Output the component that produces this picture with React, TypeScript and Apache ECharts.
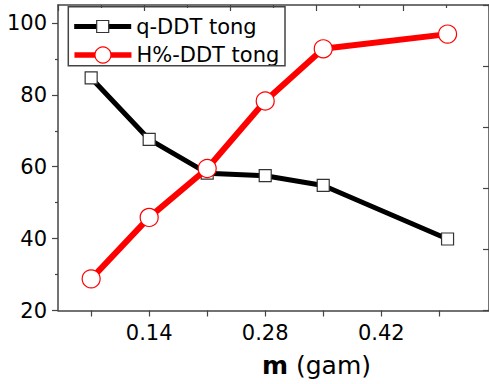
import React, { useEffect, useRef } from "react";
import * as echarts from "echarts";

// Sample mass m (gam) and the two measured quantities
const massValues = [0.07, 0.14, 0.21, 0.28, 0.35, 0.5];
const qDdtTong = [84.7, 67.6, 58.2, 57.5, 54.8, 39.9];
const hDdtTong = [28.8, 45.9, 59.5, 78.3, 92.8, 96.9];

const xLabelValues = [0.14, 0.28, 0.42];
const xTickValues = [0.07, 0.14, 0.21, 0.28, 0.35, 0.42, 0.49];
const yTickValues = [20, 40, 60, 80, 100];
const yMinorTickValues = [30, 50, 70, 90];

const seriesNames = ["q-DDT tong", "H%-DDT tong"];

const FONT = "DejaVu Sans";
const AXIS_COLOR = "#444";

export default function App() {
  const ref = useRef<HTMLDivElement>(null);

  useEffect(() => {
    if (!ref.current) return;
    const chart = echarts.init(ref.current, null, { renderer: "svg" });

    const toPairs = (ys: number[]) => massValues.map((x, i) => [x, ys[i]]);

    const legendCommon = {
      orient: "vertical" as const,
      padding: 0,
      itemWidth: 57,
      textStyle: { fontFamily: FONT, fontSize: 21, color: "#000" },
    };

    chart.setOption({
      animation: false,
      backgroundColor: "#fff",
      grid: { left: 58, top: 5, width: 436, height: 305.5, containLabel: false },
      xAxis: [
        {
          type: "value",
          position: "bottom",
          min: 0.03,
          max: 0.55,
          axisLine: { show: true, lineStyle: { color: AXIS_COLOR, width: 1.5 } },
          axisTick: {
            show: true,
            customValues: xTickValues,
            length: 6,
            lineStyle: { color: AXIS_COLOR, width: 1.2 },
          },
          axisLabel: {
            customValues: xLabelValues,
            fontFamily: FONT,
            fontSize: 21,
            color: "#000",
            margin: 12,
            formatter: (v: number) => v.toFixed(2),
          },
          splitLine: { show: false },
        },
        {
          type: "value",
          position: "top",
          min: 0,
          max: 10,
          interval: 2,
          axisLine: { show: true, lineStyle: { color: AXIS_COLOR, width: 1.5 } },
          axisTick: { show: true, inside: true, length: 6, lineStyle: { color: AXIS_COLOR, width: 1.2 } },
          minorTick: { show: true, splitNumber: 2, length: 3, lineStyle: { color: AXIS_COLOR, width: 1.2 } },
          axisLabel: { show: false },
          splitLine: { show: false },
        },
      ],
      yAxis: [
        {
          type: "value",
          position: "left",
          min: 20,
          max: 105,
          interval: 20,
          axisLine: { show: true, lineStyle: { color: AXIS_COLOR, width: 1.5 } },
          axisTick: {
            show: true,
            customValues: yTickValues,
            length: 6,
            lineStyle: { color: AXIS_COLOR, width: 1.2 },
          },
          axisLabel: {
            customValues: yTickValues,
            fontFamily: FONT,
            fontSize: 21,
            color: "#000",
            margin: 11,
          },
          splitLine: { show: false },
        },
        {
          type: "value",
          position: "left",
          min: 20,
          max: 105,
          interval: 10,
          axisLine: { show: false },
          axisTick: {
            show: true,
            customValues: yMinorTickValues,
            length: 3,
            lineStyle: { color: AXIS_COLOR, width: 1.2 },
          },
          axisLabel: { show: false },
          splitLine: { show: false },
        },
        {
          type: "value",
          position: "right",
          min: 0,
          max: 5,
          interval: 1,
          axisLine: { show: true, lineStyle: { color: AXIS_COLOR, width: 1.5 } },
          axisTick: { show: true, inside: true, length: 6, lineStyle: { color: AXIS_COLOR, width: 1.2 } },
          axisLabel: { show: false },
          splitLine: { show: false },
        },
      ],
      legend: [
        {
          ...legendCommon,
          left: 71.7,
          top: 16,
          itemHeight: 15,
          data: [
            {
              name: seriesNames[0],
              itemStyle: { color: "#fff", borderColor: "#333", borderWidth: 1.2 },
              lineStyle: { color: "#000", width: 5 },
            },
          ],
        },
        {
          ...legendCommon,
          left: 71.7,
          top: 44.5,
          itemHeight: 20,
          data: [
            {
              name: seriesNames[1],
              itemStyle: { color: "#fff", borderColor: "#ff0000", borderWidth: 1.2 },
              lineStyle: { color: "#ff0000", width: 5.5 },
            },
          ],
        },
      ],
      graphic: [
        {
          type: "rect",
          shape: { x: 68.3, y: 6.7, width: 216.7, height: 59 },
          style: { fill: "none", stroke: AXIS_COLOR, lineWidth: 1.5 },
          z: 100,
          silent: true,
        },
        {
          type: "text",
          x: 262,
          y: 365,
          style: {
            text: "{b|m} (gam)",
            font: `25px "${FONT}"`,
            fill: "#000",
            verticalAlign: "middle",
            rich: {
              b: { fontFamily: FONT, fontSize: 25, fontWeight: "bold", fill: "#000" },
            },
          },
        },
      ],
      series: [
        {
          name: seriesNames[0],
          type: "line",
          xAxisIndex: 0,
          yAxisIndex: 0,
          data: toPairs(qDdtTong),
          symbol: "rect",
          symbolSize: 12,
          showAllSymbol: true,
          lineStyle: { color: "#000", width: 5 },
          itemStyle: { color: "#fff", borderColor: "#333", borderWidth: 1.2 },
          z: 2,
        },
        {
          name: seriesNames[1],
          type: "line",
          xAxisIndex: 0,
          yAxisIndex: 0,
          data: toPairs(hDdtTong),
          symbol: "circle",
          symbolSize: 18,
          showAllSymbol: true,
          lineStyle: { color: "#ff0000", width: 6 },
          itemStyle: { color: "#fff", borderColor: "#ff0000", borderWidth: 1.2 },
          z: 3,
        },
      ],
    });

    return () => chart.dispose();
  }, []);

  return (
    <div
      ref={ref}
      style={{ position: "absolute", left: 0, top: 0, width: 489, height: 384 }}
    />
  );
}
